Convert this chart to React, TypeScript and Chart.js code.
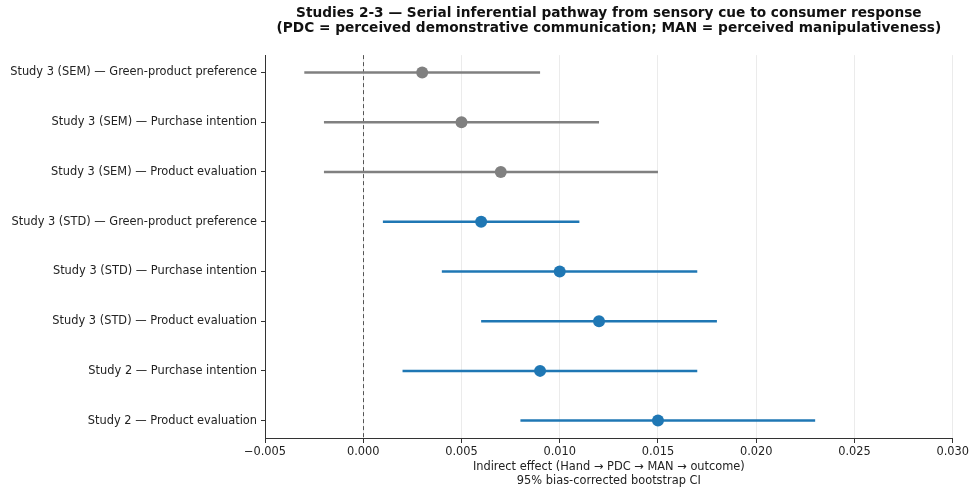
import React, { useEffect, useRef } from "react";
import { Chart, registerables } from "chart.js";

Chart.register(...registerables);

const rowLabels: string[] = [
  "Study 3 (SEM) — Green-product preference",
  "Study 3 (SEM) — Purchase intention",
  "Study 3 (SEM) — Product evaluation",
  "Study 3 (STD) — Green-product preference",
  "Study 3 (STD) — Purchase intention",
  "Study 3 (STD) — Product evaluation",
  "Study 2 — Purchase intention",
  "Study 2 — Product evaluation",
];
const estimates: number[] = [0.003, 0.005, 0.007, 0.006, 0.010, 0.012, 0.009, 0.015];
const ciLower: number[] = [-0.003, -0.002, -0.002, 0.001, 0.004, 0.006, 0.002, 0.008];
const ciUpper: number[] = [0.009, 0.012, 0.015, 0.011, 0.017, 0.018, 0.017, 0.023];
const isSEM: boolean[] = [true, true, true, false, false, false, false, false];

const xMin = -0.005;
const xMax = 0.03;
const xStep = 0.005;

const GRAY = "#808080";
const BLUE = "#1f77b4";
const FONT = "'DejaVu Sans', sans-serif";

export default function App() {
  const ref = useRef<HTMLCanvasElement | null>(null);
  useEffect(() => {
    if (!ref.current) return;
    const colors = isSEM.map((s) => (s ? GRAY : BLUE));
    const ciSets = rowLabels.map((_, i) => ({
      data: [
        { x: ciLower[i], y: i },
        { x: ciUpper[i], y: i },
      ],
      showLine: true,
      borderColor: colors[i],
      borderWidth: 2.5,
      pointRadius: 0,
      order: 2,
    }));
    const pointSet = {
      data: estimates.map((v, i) => ({ x: v, y: i })),
      pointRadius: 6,
      pointBackgroundColor: colors,
      pointBorderColor: colors,
      pointBorderWidth: 0,
      showLine: false,
      order: 0,
    };
    const zeroLine = {
      id: "zeroLine",
      beforeDatasetsDraw(chart: any) {
        const { ctx, chartArea, scales } = chart;
        const x = Math.round(scales.x.getPixelForValue(0)) + 0.5;
        ctx.save();
        ctx.strokeStyle = "#555555";
        ctx.lineWidth = 1;
        ctx.setLineDash([4, 3]);
        ctx.beginPath();
        ctx.moveTo(x, chartArea.top);
        ctx.lineTo(x, chartArea.bottom);
        ctx.stroke();
        ctx.restore();
      },
    };
    const chart = new Chart(ref.current, {
      type: "scatter",
      data: { datasets: [...ciSets, pointSet] as any },
      plugins: [zeroLine],
      options: {
        animation: false,
        responsive: false,
        layout: { padding: { left: 0, right: 15, top: 0, bottom: 0 } },
        plugins: {
          legend: { display: false },
          tooltip: { enabled: false },
          title: {
            display: true,
            fullSize: false,
            text: [
              "Studies 2-3 — Serial inferential pathway from sensory cue to consumer response",
              "(PDC = perceived demonstrative communication; MAN = perceived manipulativeness)",
            ],
            color: "#111111",
            font: { family: FONT, size: 13.7, weight: "bold", lineHeight: 1.1 },
            padding: { top: 6, bottom: 19 },
          },
        },
        scales: {
          x: {
            type: "linear",
            min: xMin,
            max: xMax,
            ticks: {
              stepSize: xStep,
              color: "#222222",
              font: { family: FONT, size: 11.4 },
              padding: 2,
              maxRotation: 0,
              callback: (v: any) => {
                const n = Number(v);
                const s = Math.abs(n).toFixed(3);
                return n < -1e-9 ? "\u2212" + s : s;
              },
            },
            grid: {
              color: "#ebebeb",
              drawOnChartArea: true,
              tickColor: "#333333",
              tickLength: 5,
            },
            border: { display: true, color: "#333333", width: 1 },
            title: {
              display: true,
              text: ["Indirect effect (Hand → PDC → MAN → outcome)", "95% bias-corrected bootstrap CI"],
              color: "#222222",
              font: { family: FONT, size: 11.4, lineHeight: 1.2 },
              padding: { top: 2, bottom: 0 },
            },
            afterFit: (s: any) => {
              s.height = 50;
            },
          },
          y: {
            type: "linear",
            min: -0.35,
            max: rowLabels.length - 1 + 0.35,
            reverse: true,
            afterBuildTicks: (s: any) => {
              s.ticks = rowLabels.map((_, i) => ({ value: i }));
            },
            ticks: {
              color: "#222222",
              font: { family: FONT, size: 11.4 },
              padding: 4,
              autoSkip: false,
              callback: (v: any) => rowLabels[Number(v)] ?? "",
            },
            grid: {
              drawOnChartArea: false,
              tickColor: "#333333",
              tickLength: 4,
            },
            border: { display: true, color: "#333333", width: 1 },
            afterFit: (s: any) => {
              s.width = 265;
            },
          },
        },
      } as any,
    });
    return () => chart.destroy();
  }, []);
  return (
    <div style={{ position: "fixed", left: 0, top: 0, width: 971, height: 488, background: "#fff" }}>
      <canvas ref={ref} width={971} height={488} style={{ width: 971, height: 488 }} />
    </div>
  );
}
